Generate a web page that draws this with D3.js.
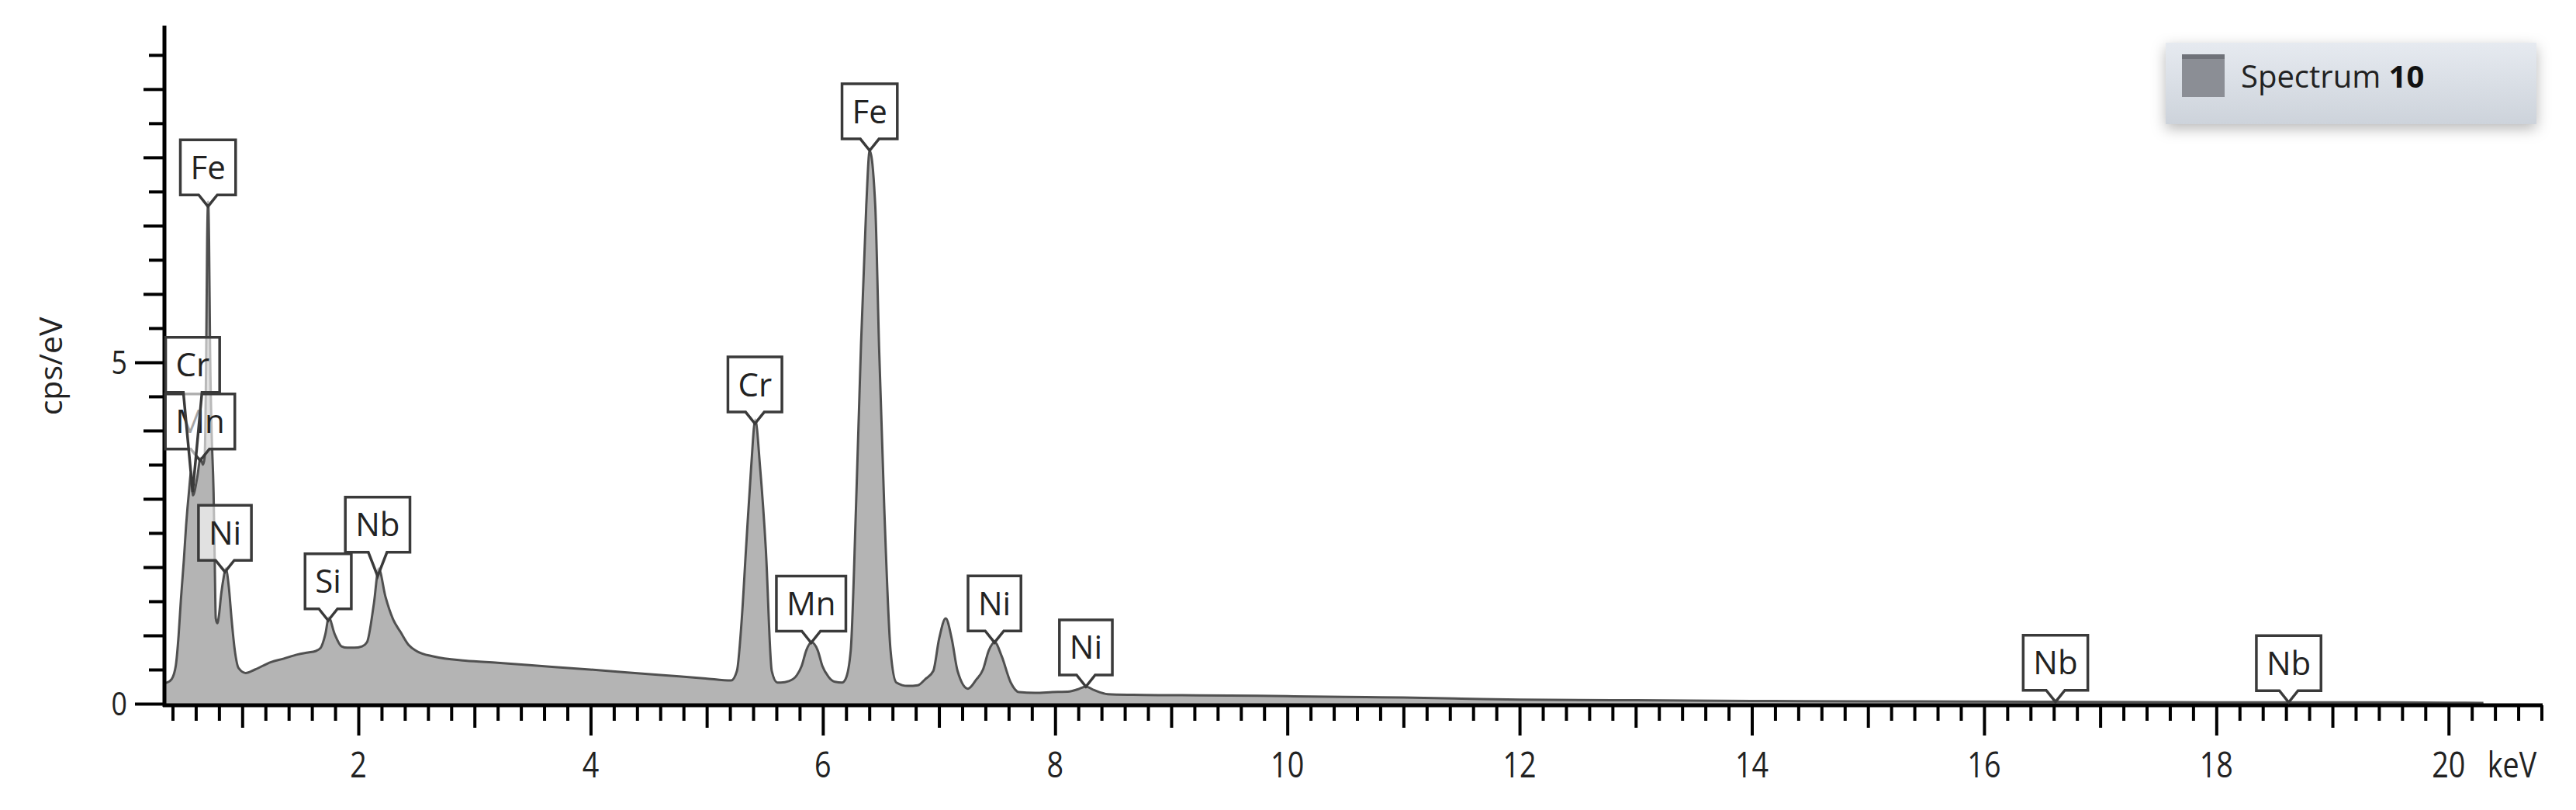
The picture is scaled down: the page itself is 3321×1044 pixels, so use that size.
<!DOCTYPE html>
<html><head><meta charset="utf-8">
<script src="https://cdn.jsdelivr.net/npm/d3@7"></script>
<style>body{margin:0;background:#fff} svg{display:block}</style>
</head><body>
<svg id="chart" width="3321" height="1044"></svg>
<script>
// ---- data ----
const energyKeV = [0.33,0.352,0.392,0.428,0.452,0.472,0.497,0.517,0.541,0.561,0.575,0.611,0.641,0.661,0.676,0.689,0.698,0.706,0.714,0.723,0.736,0.753,0.763,0.772,0.785,0.80,0.817,0.840,0.858,0.885,0.907,0.936,0.969,1.029,1.109,1.248,1.358,1.474,1.567,1.630,1.676,1.716,1.745,1.796,1.855,1.905,1.965,2.032,2.074,2.134,2.175,2.233,2.298,2.363,2.433,2.502,2.652,2.92,3.199,3.667,3.995,4.294,4.602,4.99,5.21,5.26,5.30,5.338,5.382,5.418,5.46,5.509,5.56,5.608,5.638,5.707,5.777,5.817,5.857,5.902,5.956,5.996,6.046,6.105,6.165,6.195,6.24,6.285,6.328,6.374,6.403,6.451,6.484,6.529,6.583,6.633,6.732,6.818,6.882,6.951,7.001,7.058,7.11,7.16,7.25,7.32,7.379,7.429,7.48,7.539,7.618,7.688,7.827,7.976,8.126,8.195,8.265,8.335,8.454,8.673,8.97,9.5,10.0,10.5,11.0,11.5,12.0,13.0,14.0,15.0,16.0,17.0,18.0,19.0,20.0,20.3];
const cpsPerEv = [0.30,0.31,0.36,0.56,1.0,1.53,2.1,2.62,3.1,3.4,3.05,3.3,3.6,3.5,3.6,5.0,6.8,7.35,6.8,5.2,4.0,3.1,2.1,1.25,1.18,1.3,1.58,1.85,1.98,1.7,1.26,0.78,0.52,0.45,0.5,0.61,0.66,0.72,0.75,0.77,0.82,1.02,1.26,1.02,0.84,0.82,0.82,0.84,0.9,1.47,1.98,1.57,1.24,1.05,0.86,0.77,0.69,0.63,0.6,0.54,0.5,0.46,0.42,0.37,0.34,0.48,1.2,2.26,3.45,4.16,3.45,2.26,0.48,0.31,0.31,0.33,0.42,0.55,0.78,0.9,0.78,0.55,0.4,0.32,0.31,0.36,0.78,2.86,5.23,7.3,8.1,7.3,5.23,2.86,0.78,0.31,0.26,0.27,0.36,0.48,0.95,1.25,0.95,0.48,0.22,0.35,0.5,0.78,0.9,0.7,0.31,0.17,0.16,0.17,0.18,0.21,0.25,0.2,0.14,0.13,0.125,0.12,0.11,0.1,0.09,0.075,0.06,0.05,0.04,0.035,0.03,0.025,0.02,0.02,0.015,0.01];

// peak labels, in placement order
const peakElements = ["Fe","Mn","Cr","Ni","Si","Nb","Cr","Mn","Fe","Ni","Ni","Nb","Nb"];
const peakEnergies = [0.705,0.637,0.573,0.851,1.740,2.166,5.415,5.899,6.403,7.478,8.265,16.615,18.623];

const xTickLabels = [2,4,6,8,10,12,14,16,18,20];
const yTickLabels = [0,5];
const xUnit = "keV";
const yTitle = "cps/eV";
const legendName = "Spectrum ";
const legendNumber = "10";

// ---- drawing ----
const svg = d3.select("#chart");
const x = d3.scaleLinear().domain([0.33, 20.81]).range([212, 3278]);
const y = d3.scaleLinear().domain([0, 9.93]).range([907, 33]);

const pts = energyKeV.map((e,i)=>[e, cpsPerEv[i]]);

const defs = svg.append("defs");
const f = defs.append("filter").attr("id","shadow").attr("x","-10%").attr("y","-30%").attr("width","120%").attr("height","170%");
f.append("feDropShadow").attr("dx",0).attr("dy",6).attr("stdDeviation",9).attr("flood-color","#000").attr("flood-opacity",0.28);
const lg = defs.append("linearGradient").attr("id","lgGrad").attr("x1",0).attr("y1",0).attr("x2",0).attr("y2",1);
lg.append("stop").attr("offset","0%").attr("stop-color","#e6eaf0");
lg.append("stop").attr("offset","100%").attr("stop-color","#cdd3db");

// spectrum area + line
const area = d3.area().x(d=>x(d[0])).y0(y(0)).y1(d=>y(d[1])).curve(d3.curveMonotoneX);
const line = d3.line().x(d=>x(d[0])).y(d=>y(d[1])).curve(d3.curveMonotoneX);
svg.append("path").datum(pts).attr("d",area).attr("fill","#b4b4b4");
svg.append("path").datum(pts).attr("d",line).attr("fill","none").attr("stroke","#505050").attr("stroke-width",3).attr("stroke-linejoin","round");

// axes
const x0 = x.range()[0];
const axisY = y(0) + 2;
// x ticks
const allX = d3.range(2, 105).map(i => +(i/5).toFixed(1));
const xMinor = allX.filter(v => Math.abs(v - Math.round(v)) > 1e-6);
const xMid = allX.filter(v => Math.abs(v - Math.round(v)) < 1e-6 && Math.round(v) % 2 === 1);
const xMajor = allX.filter(v => Math.abs(v - Math.round(v)) < 1e-6 && Math.round(v) % 2 === 0);
function xAxisGroup(vals, size){
  const g = svg.append("g").attr("transform",`translate(0,${axisY})`)
    .call(d3.axisBottom(x).tickValues(vals).tickSize(size).tickSizeOuter(0).tickFormat(""));
  g.select(".domain").remove();
  g.selectAll(".tick line").attr("stroke","#000").attr("stroke-width",4);
}
xAxisGroup(xMinor, 20);
xAxisGroup(xMid, 29);
xAxisGroup(xMajor, 39);

// y ticks
const allY = d3.range(0, 20).map(i => i/2);
const yHalf = allY.filter(v => v % 1 !== 0);
const yInt = allY.filter(v => v % 1 === 0 && v % 5 !== 0);
const yMaj = allY.filter(v => v % 5 === 0);
function yAxisGroup(vals, size){
  const g = svg.append("g").attr("transform",`translate(${x0},0)`)
    .call(d3.axisLeft(y).tickValues(vals).tickSize(size).tickSizeOuter(0).tickFormat(""));
  g.select(".domain").remove();
  g.selectAll(".tick line").attr("stroke","#000").attr("stroke-width",4);
}
yAxisGroup(yHalf, 20);
yAxisGroup(yInt, 27);
yAxisGroup(yMaj, 38);

// axis lines
svg.append("line").attr("x1",x0-2).attr("x2",x.range()[1]).attr("y1",axisY).attr("y2",axisY).attr("stroke","#000").attr("stroke-width",5);
svg.append("line").attr("x1",x0).attr("x2",x0).attr("y1",y.range()[1]).attr("y2",axisY+2).attr("stroke","#000").attr("stroke-width",5);

// tick labels
svg.append("g").selectAll("text").data(xTickLabels).join("text")
  .attr("transform", d => `translate(${x(d)},1002) scale(0.82,1)`)
  .attr("text-anchor","middle").attr("font-family","'Open Sans', sans-serif").attr("font-size",46).attr("fill","#222")
  .text(d=>d);
svg.append("text").attr("transform",`translate(${x(20)+50},1002) scale(0.82,1)`)
  .attr("font-family","'Open Sans', sans-serif").attr("font-size",46).attr("fill","#222").text(xUnit);
svg.append("g").selectAll("text").data(yTickLabels).join("text")
  .attr("transform", d => `translate(${x0-48},${y(d)+15}) scale(0.85,1)`)
  .attr("text-anchor","end").attr("font-family","'Open Sans', sans-serif").attr("font-size",42).attr("fill","#222")
  .text(d=>d);
svg.append("text").attr("transform",`translate(80,${y(5)+5}) rotate(-90)`)
  .attr("text-anchor","middle").attr("font-family","'Open Sans', sans-serif").attr("font-size",41).attr("fill","#222").text(yTitle);

// peak labels
function valueAt(e){
  const i = d3.bisector(d=>d[0]).left(pts, e);
  if(i<=0) return pts[0][1];
  if(i>=pts.length) return pts[pts.length-1][1];
  const a = pts[i-1], b = pts[i];
  return a[1] + (b[1]-a[1])*(e-a[0])/(b[0]-a[0]);
}
const labelG = svg.append("g");
const placed = [];
const boxH = 71, gap = 15, pad = 13, half = 12;
peakElements.forEach((el, i) => {
  const e = peakEnergies[i];
  const cx = x(e), tip = y(valueAt(e));
  const g = labelG.append("g");
  const t = g.append("text").attr("x",cx).attr("text-anchor","middle")
    .attr("font-family","'Open Sans', sans-serif").attr("font-size",42).attr("fill","#222").text(el);
  const w = t.node().getComputedTextLength() + 2*pad;
  let bottom = tip - gap;
  let box = {x0: cx - w/2, x1: cx + w/2, y0: bottom - boxH, y1: bottom};
  let moved = true;
  while(moved){
    moved = false;
    for(const p of placed){
      if(box.x0 < p.x1 && box.x1 > p.x0 && box.y0 < p.y1 && box.y1 > p.y0){
        bottom = p.y0 - 2;
        box = {x0: cx - w/2, x1: cx + w/2, y0: bottom - boxH, y1: bottom};
        moved = true;
      }
    }
  }
  placed.push(box);
  const path = `M${box.x0},${box.y0}H${box.x1}V${box.y1}H${cx+half}L${cx},${tip}L${cx-half},${box.y1}H${box.x0}Z`;
  g.insert("path","text").attr("d",path).attr("fill","rgba(255,255,255,0.6)").attr("stroke","#3a3a3a").attr("stroke-width",3.5).attr("stroke-linejoin","miter");
  t.attr("y", box.y0 + boxH/2 + 15);
});

// legend
const leg = svg.append("g");
leg.append("rect").attr("x",2792).attr("y",55).attr("width",478).attr("height",105).attr("fill","url(#lgGrad)").attr("filter","url(#shadow)");
leg.append("rect").attr("x",2813).attr("y",70).attr("width",55).attr("height",55).attr("fill","#8b8e95");
leg.append("rect").attr("x",2813).attr("y",70).attr("width",55).attr("height",6).attr("fill","#6f7279");
const lt = leg.append("text").attr("x",2889).attr("y",113).attr("font-family","'Open Sans', sans-serif").attr("font-size",40).attr("fill","#222");
lt.append("tspan").text(legendName);
lt.append("tspan").attr("font-weight","bold").attr("fill","#111").text(legendNumber);
</script>
</body></html>
